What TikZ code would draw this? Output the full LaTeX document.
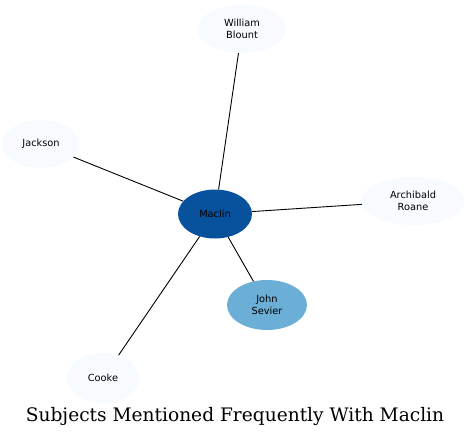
\documentclass[tikz,border=0pt]{standalone}
\usepackage{fontspec}
\setmainfont{DejaVu Serif}
\setsansfont{DejaVu Sans}
\usepackage{tikz}
\usetikzlibrary{shapes.geometric}

\definecolor{hubblue}{HTML}{08519C}
\definecolor{midblue}{HTML}{6BAED6}
\definecolor{paleblue}{HTML}{F7FBFF}

\tikzset{
  subject/.style={ellipse, fill=paleblue, draw=none, inner sep=0pt,
                  align=center, font=\sffamily\fontsize{9.8}{11.5}\selectfont,
                  minimum width=74pt, minimum height=48pt},
  link/.style={draw=black, line width=0.9pt}
}

\begin{document}
\begin{tikzpicture}[x=1pt, y=-1pt]
          \useasboundingbox (0,0) rectangle (470,439);
          % Subject nodes
          \node[subject, fill=hubblue, minimum width=74pt, minimum height=49pt]
               (maclin) at (215,214) {Maclin};
          \node[subject, fill=midblue, minimum width=80pt, minimum height=50pt]
               (sevier) at (267,305) {John\\Sevier};
          \node[subject, minimum width=89pt] (blount) at (242,29) {William\\Blount};
          \node[subject, minimum width=77pt] (jackson) at (41,144) {Jackson};
          \node[subject, minimum width=103pt] (roane) at (413,201) {Archibald\\Roane};
          \node[subject, minimum width=73pt, minimum height=50pt] (cooke) at (103,378) {Cooke};
          % Links
          \draw[link] (maclin) -- (blount);
          \draw[link] (maclin) -- (jackson);
          \draw[link] (maclin) -- (roane);
          \draw[link] (maclin) -- (sevier);
          \draw[link] (maclin) -- (cooke);
          % Title
          \node[font=\fontsize{18.6}{20}\selectfont] (title) at (235,416)
               {Subjects Mentioned Frequently With Maclin};
\end{tikzpicture}
\end{document}
